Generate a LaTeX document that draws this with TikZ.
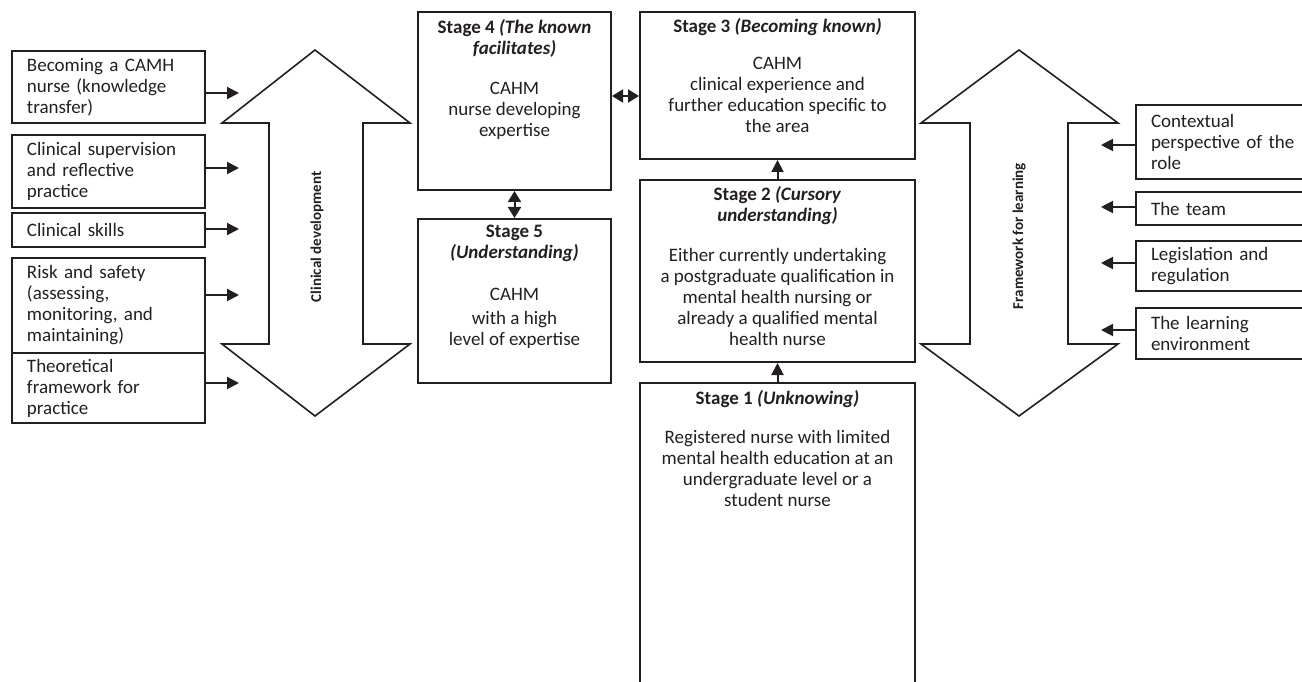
\documentclass[tikz,border=0pt]{standalone}
\usepackage{fontspec}
\setmainfont{Carlito}
\usetikzlibrary{arrows.meta}
\definecolor{K1}{RGB}{35,31,32}

\begin{document}
\begin{tikzpicture}[x=1pt, y=-1pt, line width=2pt, K1,
    font=\fontsize{19}{21}\selectfont,
    inbox/.style={draw, anchor=north west, minimum width=193pt, minimum height=#1, text width=163pt, inner xsep=15pt, align=left},
    ctxbox/.style={draw, anchor=north west, minimum width=180pt, minimum height=#1, text width=150pt, inner xsep=15pt, align=left},
    stagebox/.style={draw, minimum width=#1},
    stagetext/.style={anchor=north, align=center, inner sep=0pt},
    feed/.style={-{Triangle[length=12pt,width=12pt]}},
    link/.style={{Triangle[length=11pt,width=13pt]}-{Triangle[length=11pt,width=13pt]}},
    bigarrow/.style={draw, fill=white, line width=1.6pt},
    axislabel/.style={rotate=90, font=\bfseries\fontsize{15}{17}\selectfont}]
  \clip (0,0) rectangle (1302,682);

  \node[inbox=72pt] (know) at (11,50) {Becoming a CAMH\\ nurse (knowledge\\ transfer)};
  \node[inbox=73pt] (sup) at (11,134) {Clinical supervision\\ and reflective\\ practice};
  \node[inbox=34pt] (skill) at (11,212) {Clinical skills};
  \node[inbox=95pt] (risk) at (11,257) {Risk and safety\\ (assessing,\\ monitoring, and\\ maintaining)};
  \node[inbox=70pt] (theory) at (11,352) {Theoretical\\ framework for\\ practice};
  \coordinate (cdA) at (239,93);
  \coordinate (cdB) at (239,168);
  \coordinate (cdC) at (239,229);
  \coordinate (cdD) at (239,295);
  \coordinate (cdE) at (239,383);
  \draw[feed] (know.east |- cdA) -- (cdA);
  \draw[feed] (sup.east |- cdB) -- (cdB);
  \draw[feed] (skill.east |- cdC) -- (cdC);
  \draw[feed] (risk.east |- cdD) -- (cdD);
  \draw[feed] (theory.east |- cdE) -- (cdE);

  \draw[bigarrow] (315,50) -- (410,123) -- (363,123) -- (363,344) -- (410,344) -- (315,416)
    -- (222,344) -- (269,344) -- (269,123) -- (222,123) -- cycle;
  \node[axislabel] (clin) at (317,237) {Clinical development};

  \node[stagebox=193pt, minimum height=178pt] (s4) at (514.5,101) {};
  \node[stagetext] (s4t) at ([yshift=-7pt]s4.north) {\textbf{Stage 4 \textit{(The known}}\\ \textbf{\textit{facilitates)}}\\[19pt]
    CAHM\\ nurse developing\\ expertise};
  \node[stagebox=193pt, minimum height=164pt] (s5) at (514.5,301) {};
  \node[stagetext] (s5t) at ([yshift=-6pt]s5.north) {\textbf{Stage 5}\\ \textbf{\textit{(Understanding)}}\\[21pt]
    CAHM\\[3pt] with a high\\ level of expertise};
  \node[stagebox=275pt, minimum height=147pt] (s3) at (777.5,85.5) {};
  \node[stagetext] (s3t) at ([yshift=-6pt]s3.north) {\textbf{Stage 3 \textit{(Becoming known)}}\\[16pt]
    CAHM\\ clinical experience and\\ further education specific to\\ the area};
  \node[stagebox=275pt, minimum height=182pt] (s2) at (777.5,271) {};
  \node[stagetext] (s2t) at ([yshift=-6pt]s2.north) {\textbf{Stage 2 \textit{(Cursory}}\\ \textbf{\textit{understanding)}}\\[19pt]
    Either currently undertaking\\ a postgraduate qualification in\\ mental health nursing or\\ already a qualified mental\\ health nurse};
  \node[stagebox=275pt, minimum height=317pt] (s1) at (777.5,541.5) {};
  \node[stagetext] (s1t) at ([yshift=-7pt]s1.north) {\textbf{Stage 1 \textit{(Unknowing)}}\\[18pt]
    Registered nurse with limited\\ mental health education at an\\ undergraduate level or a\\ student nurse};
  \draw[link] ([yshift=5pt]s4.east) -- ([yshift=-10.5pt]s3.west);
  \draw[link] (s4.south) -- (s5.north);
  \draw[feed] (s1.north) -- (s2.south);
  \draw[feed] (s2.north) -- (s3.south);

  \draw[bigarrow] (1019,50) -- (1118,123) -- (1068,123) -- (1068,344) -- (1118,344) -- (1019,416)
    -- (921,344) -- (970,344) -- (970,123) -- (921,123) -- cycle;
  \node[axislabel] (frame) at (1019,236) {Framework for learning};

  \node[ctxbox=74pt] (role) at (1135,104) {Contextual\\ perspective of the\\ role};
  \node[ctxbox=33pt] (team) at (1135,191) {The team};
  \node[ctxbox=50pt] (law) at (1135,240) {Legislation and\\ regulation};
  \node[ctxbox=51pt] (env) at (1135,307) {The learning\\ environment};
  \coordinate (flA) at (1101,145);
  \coordinate (flB) at (1101,207);
  \coordinate (flC) at (1101,263);
  \coordinate (flD) at (1101,330);
  \draw[feed] (role.west |- flA) -- (flA);
  \draw[feed] (team.west |- flB) -- (flB);
  \draw[feed] (law.west |- flC) -- (flC);
  \draw[feed] (env.west |- flD) -- (flD);
\end{tikzpicture}
\end{document}
